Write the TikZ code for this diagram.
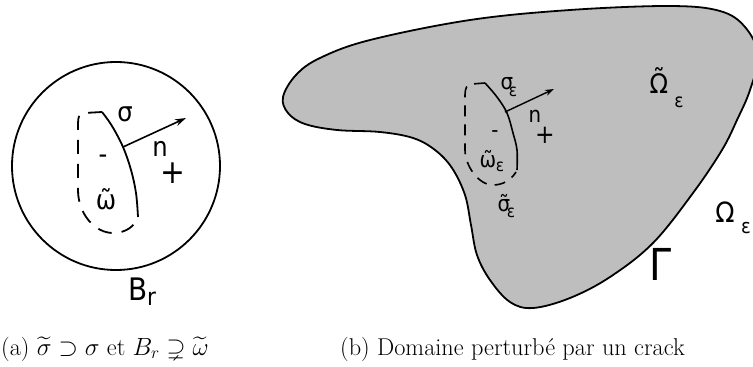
\documentclass[tikz,border=0pt]{standalone}
\usepackage{fontspec}
\usepackage{amssymb}
\usepackage{graphicx}
\newfontfamily\labfont{DejaVu Sans}
\usetikzlibrary{arrows.meta}
\definecolor{shade}{RGB}{190,190,190}
\newcommand\nar[1]{\scalebox{0.9}[1]{\labfont #1}}
\newcommand\tld[2][0em]{\ooalign{#2\cr\hidewidth\raisebox{#1}{\char"02DC}\hidewidth\cr}}
\tikzset{
  lab/.style={inner sep=0pt, font=\fontsize{27}{27}\selectfont},
  labs/.style={inner sep=0pt, font=\fontsize{22}{22}\selectfont},
  sub/.style={inner sep=0pt, font=\fontsize{17}{17}\selectfont},
  crackline/.style={line width=1.8pt},
  dashA/.style={line width=1.8pt, dash pattern=on 14pt off 10pt},
  dashB/.style={line width=1.6pt, dash pattern=on 11pt off 8pt},
  captext/.style={inner sep=0pt, anchor=base west, font=\fontsize{24.3}{29}\selectfont},
}
\begin{document}
\begin{tikzpicture}[x=1pt,y=-1pt]
\useasboundingbox (0,0) rectangle (753,367);

% ---------- (a) ----------
\node[circle, draw, line width=1.8pt, minimum size=208pt, inner sep=0pt] (ball) at (116,166) {};
\draw[crackline] plot[smooth, tension=0.6] coordinates {(102,112) (112,126) (123,147) (131,170) (136,193) (138,217)};
\coordinate (nA) at (123,147);
\coordinate (tA) at (186,118);
\draw[line width=1.6pt, -{Stealth[length=11pt,width=7pt]}] (nA) -- (tA);
\draw[dashA] (102,112) -- (84,113) .. controls (79,113) and (78,117) .. (78,124) -- (78,190)
  .. controls (78,214) and (95,233) .. (113,233) .. controls (126,233) and (135,226) .. (138,217);
\node[lab] (sigA) at (125,114) {\nar{σ}};
\node[lab] (nlabA) at (160,149) {\nar{n}};
\node[inner sep=0pt, font=\fontsize{33}{33}\selectfont] (plusA) at (173,173) {\nar{+}};
\node[lab] (minA) at (103,159) {\nar{-}};
\node[lab] (omA) at (106,202) {\nar{\tld{ω}}};
\node[inner sep=0pt, font=\fontsize{31}{31}\selectfont, anchor=base west] (BA) at (128,300) {\nar{B}};
\node[inner sep=0pt, font=\fontsize{24}{24}\selectfont, anchor=base west] (rA) at (147,305) {\nar{r}};

% ---------- (b) ----------
\filldraw[fill=shade, line width=1.8pt] plot[smooth cycle, tension=0.6] coordinates {
 (283,97) (296,75) (320,58) (370,40) (470,20) (570,10) (670,6) (720,11) (745,27) (758,55)
 (750,90) (737,120) (722,150) (693,193) (653,243) (610,277) (570,298) (533,308) (510,302)
 (490,280) (477,255) (471,225) (465,195) (452,168) (435,150) (413,138) (380,132) (337,130)
 (305,124) (288,113)};
\draw[line width=1.6pt] plot[smooth, tension=0.6] coordinates {(485,83) (497,97) (507,113) (513,133) (517,150) (517,170)};
\coordinate (nB) at (505,112);
\coordinate (tB) at (554,89);
\draw[line width=1.4pt, -{Stealth[length=9pt,width=6pt]}] (nB) -- (tB);
\draw[dashB] (485,83) -- (472,84) .. controls (467,84) and (465,88) .. (465,95) -- (465,150)
  .. controls (465,165) and (478,185) .. (493,185) .. controls (503,185) and (511,180) .. (516,172);
\node[labs] (sigB) at (507,84) {\nar{σ}};
\node[sub] (epsB1) at (513,92) {\nar{ε}};
\node[labs] (nlabB) at (535,116) {\nar{n}};
\node[inner sep=0pt, font=\fontsize{26}{26}\selectfont] (plusB) at (545,135) {\nar{+}};
\node[labs] (minB) at (495,134) {\nar{-}};
\node[labs] (omB) at (488,161) {\nar{\tld{ω}}};
\node[sub] (epsB2) at (500,167) {\nar{ε}};
\node[labs] (sigtB) at (504,205) {\nar{\tld{σ}}};
\node[sub] (epsB3) at (511,213) {\nar{ε}};
\node[inner sep=0pt, font=\fontsize{27}{27}\selectfont] (OmtB) at (659,84) {\nar{\tld[0.22em]{Ω}}};
\node[inner sep=0pt, font=\fontsize{19}{19}\selectfont] (epsB4) at (679,102) {\nar{ε}};
\node[inner sep=0pt, font=\fontsize{28}{28}\selectfont] (OmB) at (725,212) {\nar{Ω}};
\node[inner sep=0pt, font=\fontsize{20}{20}\selectfont] (epsB5) at (746,228) {\nar{ε}};
\node[inner sep=0pt, font=\fontsize{44}{44}\selectfont] (GamB) at (661,264) {\nar{Γ}};

% ---------- captions ----------
\node[captext] (capA) at (1,355) {(a) $\widetilde{\sigma}\supset\sigma$ et $B_r\supsetneq\widetilde{\omega}$};
\node[captext] (capB) at (340,355) {(b) Domaine perturbé par un crack};
\end{tikzpicture}
\end{document}
